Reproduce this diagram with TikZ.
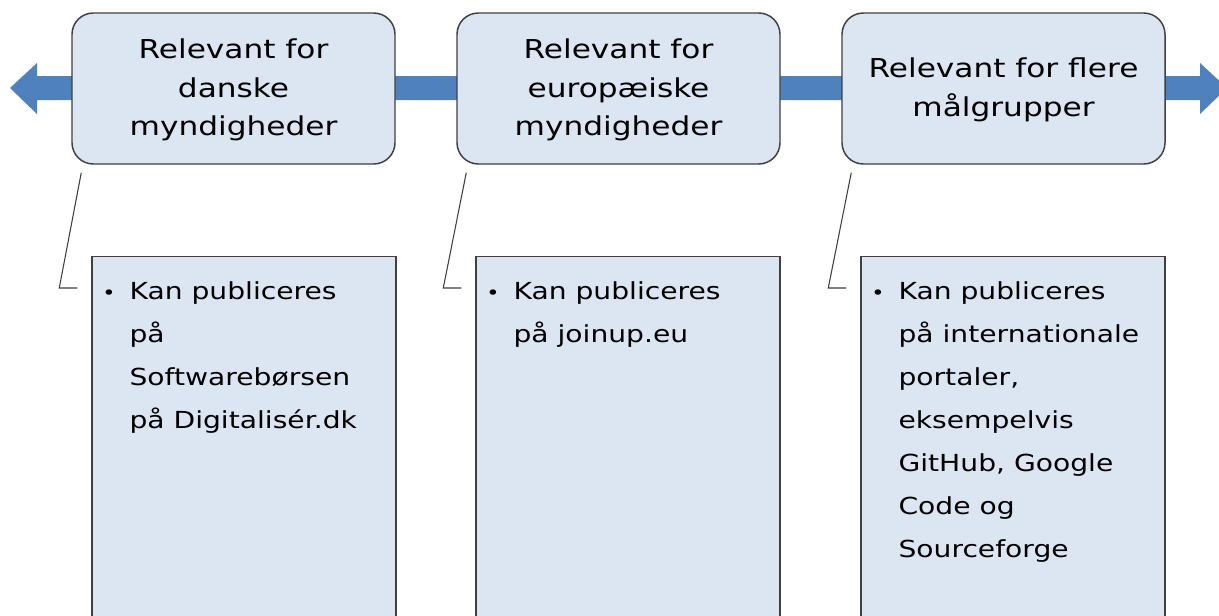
\documentclass[tikz,border=0pt]{standalone}
\usepackage{fontspec}
\setmainfont{DejaVu Sans}[FakeStretch=1.2]
\usetikzlibrary{calc}
\definecolor{boxfill}{HTML}{DCE6F2}
\definecolor{boxline}{HTML}{404040}
\definecolor{arrowblue}{HTML}{4F81BD}
\tikzset{
  topbox/.style={draw=boxline, line width=1.1pt, fill=boxfill, rounded corners=16pt,
    minimum width=242.25pt, minimum height=113.25pt, inner sep=0pt},
  toptext/.style={align=center, inner sep=0pt,
    font={\fontsize{19.5}{28.9}\selectfont}},
  lowbox/.style={draw=boxline, line width=1.1pt, fill=boxfill,
    minimum width=228pt, minimum height=290pt, inner sep=0pt, anchor=north},
  listtext/.style={anchor=base west, inner sep=0pt,
    font={\fontsize{17.6}{32.25}\selectfont}},
  callout/.style={draw=boxline, line width=0.8pt},
}
\newcommand{\bul}{\llap{{\fontsize{14}{14}\selectfont •}\hspace{10.5pt}}}
\newcommand{\lines}[1]{\begin{tabular}[t]{@{}l@{}}#1\end{tabular}}
\begin{document}
\begin{tikzpicture}[x=0.75pt,y=-0.75pt]
\clip (0,0) rectangle (1219,615);
\fill[white] (0,0) rectangle (1219,615);
% double arrow
\fill[arrowblue] (10,88) -- (37,63) -- (37,76) -- (1200,76) -- (1200,63) -- (1227,88)
  -- (1200,114) -- (1200,100) -- (37,100) -- (37,114) -- cycle;
% top boxes
\node[topbox] (t1) at (233.5,88.5) {};
\node[topbox] (t2) at (618.5,88.5) {};
\node[topbox] (t3) at (1003.5,88.5) {};
\node[toptext] (l1) at ($(t1.center)+(0,1.5)$) {Relevant for\\danske\\myndigheder};
\node[toptext] (l2) at ($(t2.center)+(0,1.5)$) {Relevant for\\europæiske\\myndigheder};
\node[toptext] (l3) at ($(t3.center)+(0,1.5)$) {Relevant for flere\\målgrupper};
% lower boxes
\node[lowbox] (b1) at (244,256) {};
\node[lowbox] (b2) at (628,256) {};
\node[lowbox] (b3) at (1013,256) {};
% texts
\node[listtext] (x1) at ($(b1.north west)+(38,43)$) {\lines{\bul Kan publiceres\\på\\Softwarebørsen\\på Digitalisér.dk}};
\node[listtext] (x2) at ($(b2.north west)+(38,43)$) {\lines{\bul Kan publiceres\\på joinup.eu}};
\node[listtext] (x3) at ($(b3.north west)+(38,43)$) {\lines{\bul Kan publiceres\\på internationale\\portaler,\\eksempelvis\\GitHub, Google\\Code og\\Sourceforge}};
% callout connectors
\foreach \i in {1,2,3}{
  \coordinate (s\i) at ($(t\i.south west)+(10,8)$);
  \coordinate (k\i) at ($(b\i.north west)+(-32,32)$);
  \coordinate (e\i) at ($(b\i.north west)+(-14,32)$);
  \draw[callout] (s\i) -- (k\i) -- (e\i);
}
\end{tikzpicture}
\end{document}
